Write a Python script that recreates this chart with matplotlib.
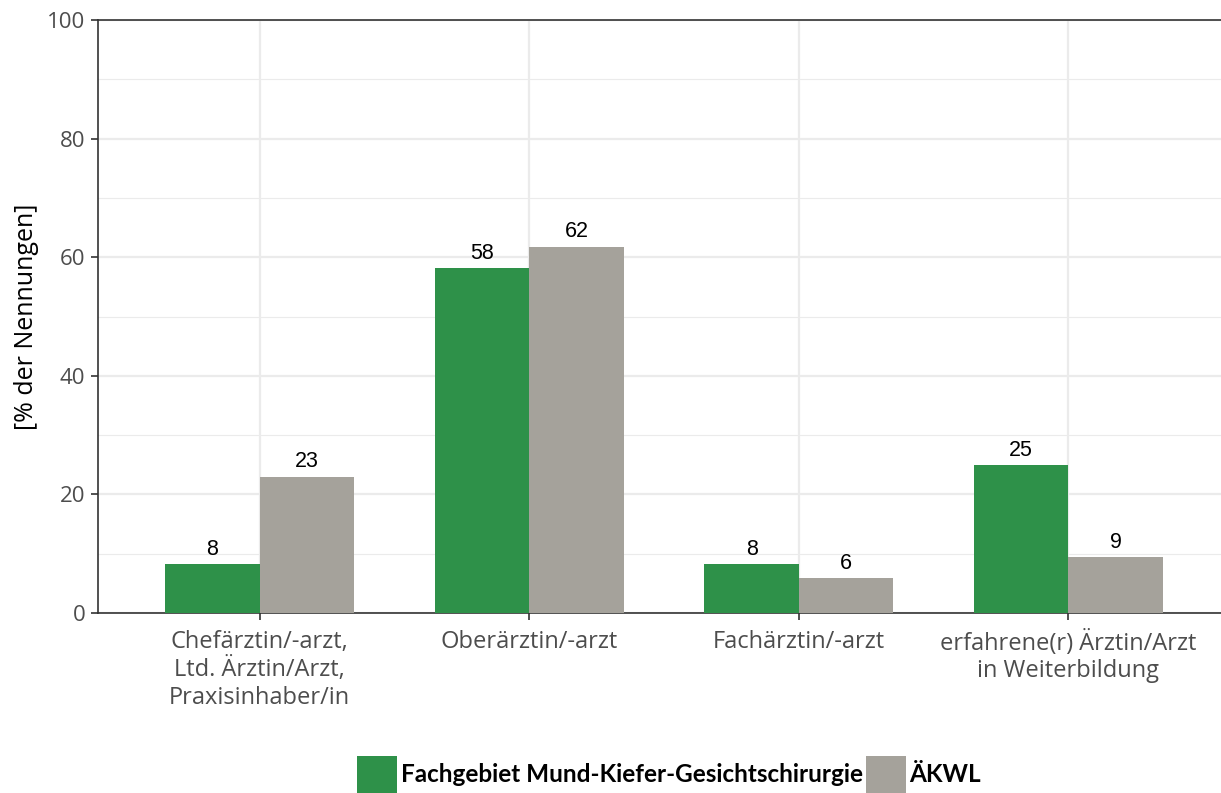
import matplotlib
matplotlib.use('Agg')
import matplotlib.pyplot as plt
from matplotlib.patches import Patch
import numpy as np

categories = ['Chefärztin/-arzt,\nLtd. Ärztin/Arzt,\nPraxisinhaber/in',
              'Oberärztin/-arzt',
              'Fachärztin/-arzt',
              'erfahrene(r) Ärztin/Arzt\nin Weiterbildung']
mkg_values = [8.3, 58.2, 8.3, 25.0]
akwl_values = [23.0, 61.8, 5.9, 9.4]
mkg_labels = ['8', '58', '8', '25']
akwl_labels = ['23', '62', '6', '9']
series_names = ['Fachgebiet Mund-Kiefer-Gesichtschirurgie', 'ÄKWL']

green = '#2e9149'
gray = '#a5a29b'

fig = plt.figure(figsize=(12.21, 7.93), dpi=100)
# axes runs a little past the right edge, like the cropped original
ax = fig.add_axes([98 / 1221, 1 - 613 / 793, 1132 / 1221, 593 / 793])

x = np.arange(1, len(categories) + 1)
w = 0.35
ax.bar(x - w / 2, mkg_values, width=w, color=green, zorder=3)
ax.bar(x + w / 2, akwl_values, width=w, color=gray, zorder=3)

for xi, v, lab in zip(x - w / 2, mkg_values, mkg_labels):
    ax.text(xi, v + 0.7, lab, ha='center', va='bottom', fontsize=15.5,
            family='Liberation Sans', color='black', zorder=4)
for xi, v, lab in zip(x + w / 2, akwl_values, akwl_labels):
    ax.text(xi, v + 0.7, lab, ha='center', va='bottom', fontsize=15.5,
            family='Liberation Sans', color='black', zorder=4)

ax.set_xlim(0.4, 4.6)
ax.set_ylim(0, 100)
ax.set_yticks(np.arange(0, 101, 20))
ax.set_yticks(np.arange(10, 100, 20), minor=True)
ax.set_xticks(x)
ax.set_xticklabels(categories, fontsize=17, family='Open Sans', color='#4d4d4d',
                   linespacing=1.2)
for lab in ax.get_yticklabels():
    lab.set_fontsize(16)
    lab.set_family('Open Sans')
    lab.set_color('#4d4d4d')

ax.grid(True, which='major', color='#ebebeb', linewidth=1.6, zorder=0)
ax.grid(True, which='minor', axis='y', color='#ebebeb', linewidth=0.8, zorder=0)
ax.tick_params(axis='both', which='major', length=5, width=1.2, color='#333333', pad=4)
ax.tick_params(axis='y', which='minor', length=0)
ax.tick_params(axis='x', pad=7)

for side in ['left', 'bottom', 'top']:
    ax.spines[side].set_color('#333333')
    ax.spines[side].set_linewidth(1.2)
ax.spines['right'].set_visible(False)

ax.set_ylabel('[% der Nennungen]', fontsize=18, family='Open Sans', color='black',
              labelpad=6)

handles = [Patch(facecolor=green), Patch(facecolor=gray)]
fig.legend(handles, series_names, loc='lower center', bbox_to_anchor=(0.548, -0.028),
           ncol=2, frameon=False, handlelength=1.65, handleheight=2.0,
           handletextpad=0.15, columnspacing=0.1,
           prop={'family': 'Lato', 'weight': 'bold', 'size': 17.5})

fig.savefig('out.png', dpi=100)
